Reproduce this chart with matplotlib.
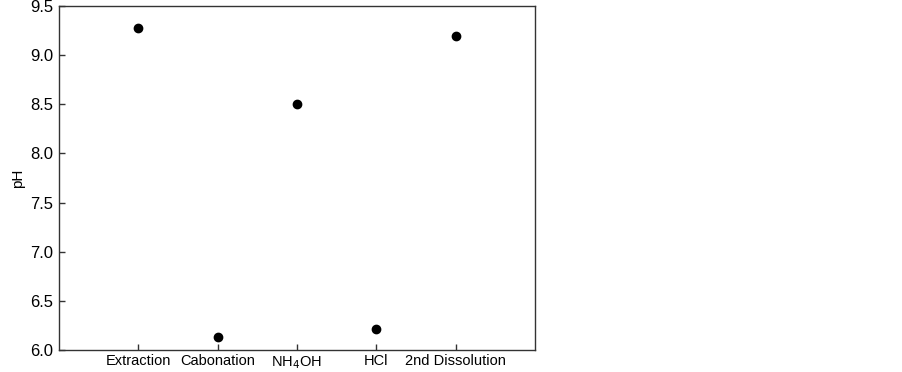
import matplotlib.pyplot as plt

plt.rcParams['font.family'] = ['Liberation Sans', 'DejaVu Sans']

steps = ['Extraction', 'Cabonation', 'NH$_4$OH', 'HCl', '2nd Dissolution']
ph_values = [9.28, 6.135, 8.50, 6.21, 9.19]
y_ticks = [6.0, 6.5, 7.0, 7.5, 8.0, 8.5, 9.0, 9.5]

fig = plt.figure(figsize=(9.03, 3.72), dpi=100)
ax = fig.add_axes([0.0653, 0.0591, 0.527, 0.925])

x = list(range(1, len(steps) + 1))
ax.plot(x, ph_values, 'o', color='black', markersize=6, linestyle='none')

ax.set_xlim(0, 6)
ax.set_ylim(6.0, 9.5)
ax.set_xticks(x)
ax.set_xticklabels(steps, fontsize=10.5)
ax.set_yticks(y_ticks)
ax.set_yticklabels([f'{v:.1f}' for v in y_ticks], fontsize=12)
ax.set_ylabel('pH', fontsize=11, labelpad=4)

ax.tick_params(direction='in', length=4, width=1, color='#333333', pad=4)
ax.tick_params(axis='x', pad=3)
for s in ax.spines.values():
    s.set_color('#333333')
    s.set_linewidth(1)

fig.savefig('out.png', dpi=100)
